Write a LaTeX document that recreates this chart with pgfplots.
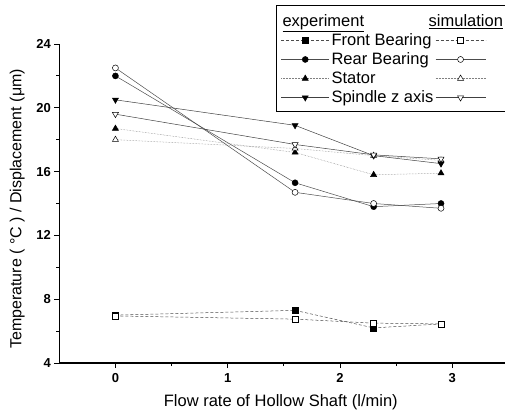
\documentclass[border=0pt]{standalone}
\usepackage{fontspec}
\setmainfont{Liberation Sans}
\usepackage{pgfplots}
\pgfplotsset{compat=1.18}
\pgfplotsset{
  simlegend/.style={legend image code/.code={\draw[mark repeat=2,mark phase=2,##1] plot coordinates {(0pt,0pt) (25pt,0pt) (50pt,0pt)}; \path (78pt,0pt);}},
}
\begin{document}
\begin{tikzpicture}
\begin{axis}[
  scale only axis,
  width=445.7pt, height=319pt,
  xmin=-0.5, xmax=3.47,
  ymin=4, ymax=24,
  axis x line=bottom, axis y line=left,
  axis line style={-, line width=1.3pt, black},
  xtick={0,1,2,3}, ytick={4,8,12,16,20,24},
  minor x tick num=1, minor y tick num=1,
  tick align=outside,
  major tick length=5pt, minor tick length=3pt,
  tick style={black, line width=0.9pt},
  /pgf/number format/assume math mode=true,
  ticklabel style={font=\fontsize{13}{15}\selectfont\bfseries},
  xticklabel style={yshift=-2pt},
  xlabel={Flow rate of Hollow Shaft (l/min)},
  ylabel={Temperature ( °C ) / Displacement (μm)},
  every axis x label/.style={at={(axis description cs:0.497,-0.122)}, anchor=center, font=\fontsize{16.5}{19}\selectfont},
  every axis y label/.style={at={(axis description cs:-0.0942,0.483)}, anchor=center, rotate=90, font=\fontsize{16}{19}\selectfont},
  legend columns=2,
  legend cell align=left,
  legend image code/.code={\draw[mark repeat=2,mark phase=2,#1] plot coordinates {(0pt,0pt) (24pt,0pt) (48pt,0pt)};},
  legend style={at={(axis description cs:0.488,1.119)}, anchor=north west,
    draw=none, fill=none, font=\fontsize{16.5}{19}\selectfont,
    row sep=1.8pt, inner xsep=4pt, inner ysep=6pt,
    /tikz/every even column/.append style={column sep=0pt}},
  mark size=3pt,
]
\addlegendimage{empty legend}
\addlegendentry{\hspace*{-49pt}\underline{experiment}}
\addlegendimage{empty legend}
\addlegendentry{\hspace*{-97pt}\underline{simulation}}

\addplot[black!70, line width=0.5pt, densely dashed, mark=square*, mark options={solid, fill=black, draw=black}]
  coordinates {(0,7.0) (1.6,7.3) (2.3,6.2) (2.9,6.45)};
\addlegendentry{Front Bearing}
\addplot[simlegend, black!70, line width=0.5pt, densely dashed, mark=square*, mark options={solid, fill=white, draw=black}]
  coordinates {(0,6.95) (1.6,6.75) (2.3,6.5) (2.9,6.45)};
\addlegendentry{}

\addplot[black!70, line width=0.5pt, mark=*, mark options={solid, fill=black, draw=black}]
  coordinates {(0,22.0) (1.6,15.3) (2.3,13.8) (2.9,14.0)};
\addlegendentry{Rear Bearing}
\addplot[simlegend, black!70, line width=0.5pt, mark=*, mark options={solid, fill=white, draw=black}]
  coordinates {(0,22.5) (1.6,14.7) (2.3,14.0) (2.9,13.7)};
\addlegendentry{}

\addplot[black!50, line width=0.5pt, densely dotted, mark=triangle*, mark size=3.5pt, mark options={solid, fill=black, draw=black}]
  coordinates {(0,18.7) (1.6,17.2) (2.3,15.8) (2.9,15.9)};
\addlegendentry{Stator}
\addplot[simlegend, black!50, line width=0.5pt, densely dotted, mark=triangle*, mark size=3.5pt, mark options={solid, fill=white, draw=black}]
  coordinates {(0,18.0) (1.6,17.45) (2.3,17.0) (2.9,16.7)};
\addlegendentry{}

\addplot[black!75, line width=0.5pt, mark=triangle*, mark size=3.5pt, mark options={solid, fill=black, draw=black, rotate=180}]
  coordinates {(0,20.5) (1.6,18.9) (2.3,17.0) (2.9,16.5)};
\addlegendentry{Spindle z axis}
\addplot[simlegend, black!75, line width=0.5pt, mark=triangle*, mark size=3.5pt, mark options={solid, fill=white, draw=black, rotate=180}]
  coordinates {(0,19.6) (1.6,17.7) (2.3,17.05) (2.9,16.8)};
\addlegendentry{}
\end{axis}
\draw[line width=0.9pt, black] (460pt,358pt) -- (217.4pt,358pt) -- (217.4pt,252pt) -- (460pt,252pt);
\pgfresetboundingbox
\path (-59.3pt,-54pt) rectangle (445.7pt,363pt);
\end{tikzpicture}
\end{document}
